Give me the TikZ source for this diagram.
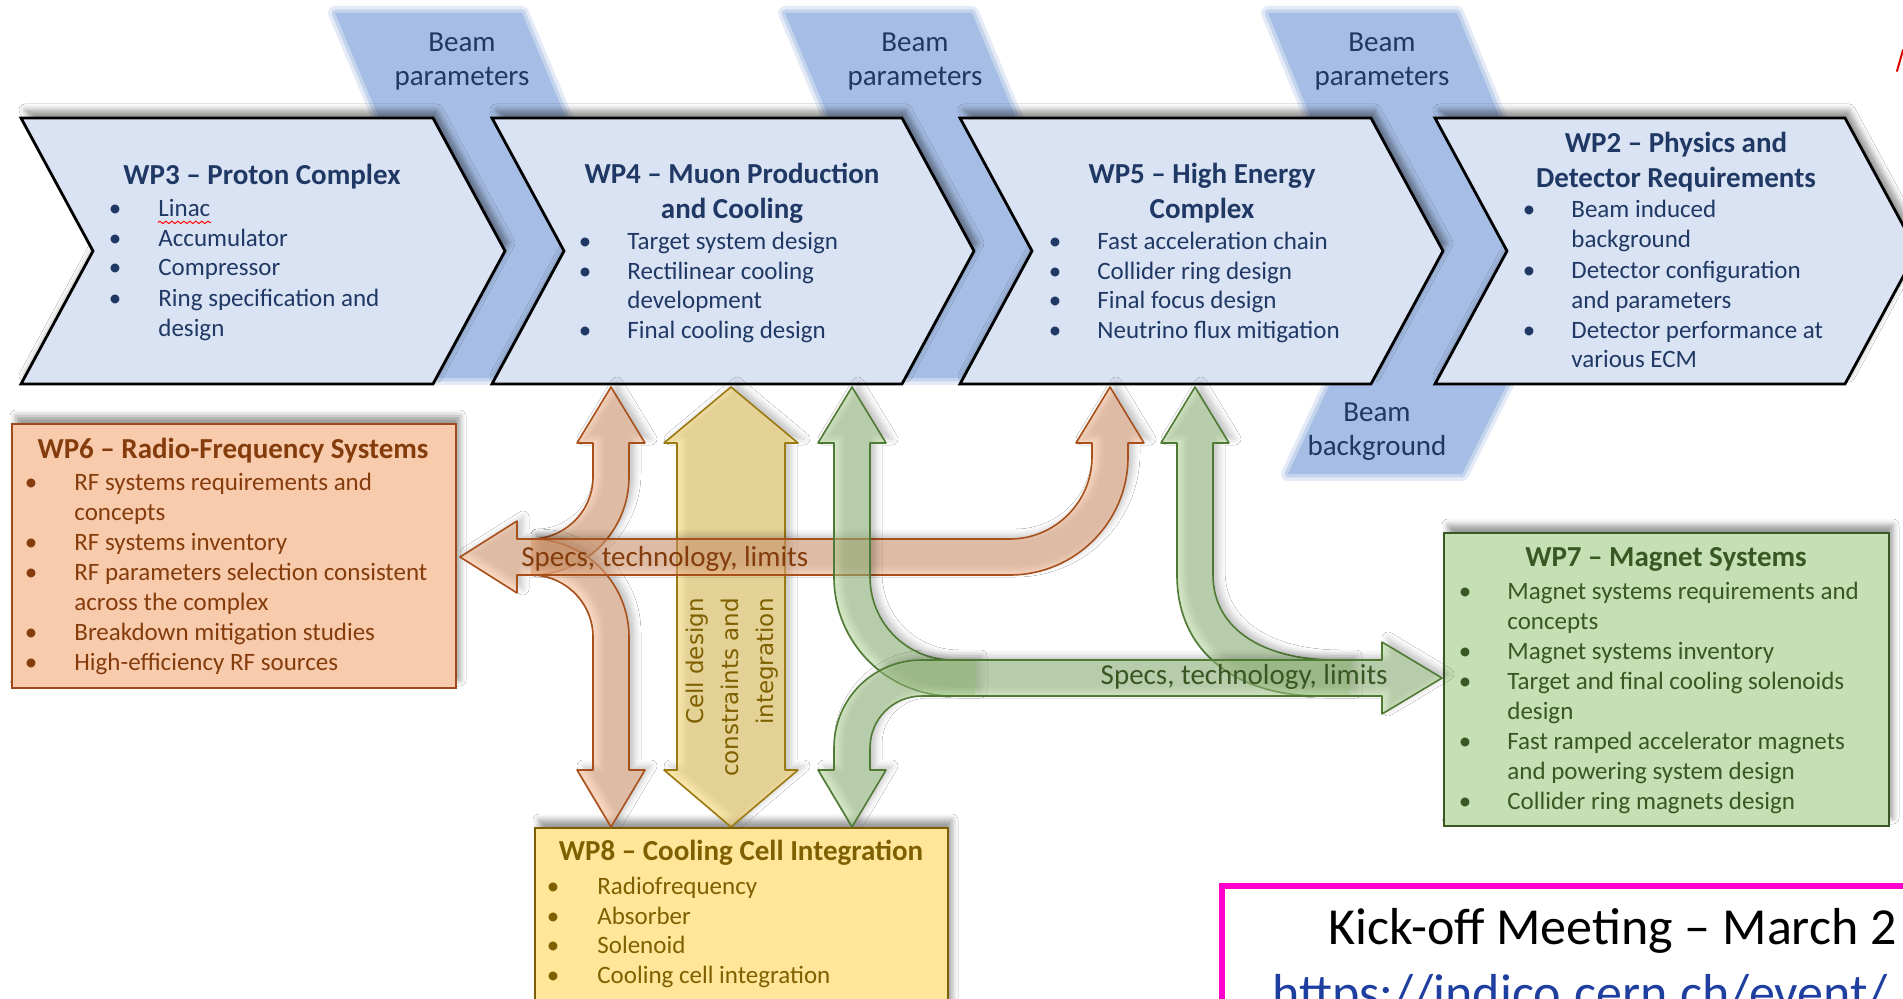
\documentclass[tikz,border=0pt]{standalone}
\usepackage{fontspec}
\setmainfont{Carlito}
\newfontfamily\vfont{DejaVu Sans}
\usetikzlibrary{shadows,shadows.blur,decorations.pathmorphing}

\definecolor{chevfill}{HTML}{DAE3F3}
\definecolor{bandc}{RGB}{166,190,229}
\definecolor{navy}{HTML}{1F3864}
\definecolor{rfFill}{HTML}{F8CBAD}
\definecolor{rfLine}{HTML}{9C4A1A}
\definecolor{rfText}{HTML}{843C0C}
\definecolor{mgFill}{HTML}{C5E0B4}
\definecolor{mgLine}{HTML}{385723}
\definecolor{mgText}{HTML}{385723}
\definecolor{ccFill}{HTML}{FFE699}
\definecolor{ccLine}{HTML}{7F6000}
\definecolor{ccText}{HTML}{7F6000}
\definecolor{oFill}{HTML}{F4B183}
\definecolor{oLine}{HTML}{A8501C}
\definecolor{yFill}{HTML}{F7D874}
\definecolor{yLine}{HTML}{9C7A12}
\definecolor{gFill}{HTML}{A9D18E}
\definecolor{gLine}{HTML}{4E7A33}
\definecolor{kick}{HTML}{FF00CC}
\definecolor{urlc}{HTML}{1F3FA0}

\newcommand\itemlist[5]{%
  \foreach \yy/\fl/\tx [count=\i] in {#5} {
    \node[li, text=#2] (#1-\i) at (#4,\yy) {\tx};
    \ifnum\fl=1 \node[li, anchor=center, text=#2] (#1b-\i) at (#3,\yy) {•};\fi
  }}

\begin{document}
\begin{tikzpicture}[x=0.5pt,y=-0.5pt,
  shd/.style={blur shadow={shadow xshift=2pt, shadow yshift=4pt, shadow blur radius=3pt, shadow opacity=40}},
  ashd/.style={blur shadow={shadow xshift=3pt, shadow yshift=2pt, shadow blur radius=3pt, shadow opacity=22}},
  band/.style={preaction={draw=bandc, draw opacity=0.3, line width=7pt, line join=round},
               preaction={draw=bandc, draw opacity=0.5, line width=3.5pt, line join=round},
               fill=bandc},
  chev/.style={fill=chevfill, draw=black, line width=1.4pt, line join=miter, shd},
  beam/.style={align=center, font=\fontsize{14.5}{17}\selectfont, text=navy, inner sep=0pt},
  ttl/.style={align=center, font=\bfseries\fontsize{14.5}{17.5}\selectfont, inner sep=0pt},
  li/.style={anchor=west, inner sep=0pt, font=\fontsize{12.5}{15}\selectfont, text height=8.75pt, text depth=1.25pt},
  lbl/.style={inner sep=0pt, font=\fontsize{14.5}{17}\selectfont},
  oF/.style={fill=oFill, fill opacity=0.5, ashd},
  oD/.style={draw=oLine, line width=0.8pt, line join=round},
  gF/.style={fill=gFill, fill opacity=0.5, ashd},
  gD/.style={draw=gLine, line width=0.8pt, line join=round},
  yF/.style={fill=yFill, fill opacity=0.6, ashd},
  yD/.style={draw=yLine, line width=0.8pt, line join=round},
]
\fill[white] (0,0) rectangle (1903,999);
\useasboundingbox (0,0) rectangle (1903,999);

% blue bands behind the chevrons
\path[band] (335,13) -- (522,13) -- (566,118) -- (620,251) -- (560,378) -- (400,378) -- (460,251) -- (379,118) -- cycle;
\path[band] (785,13) -- (972,13) -- (1016,118) -- (1090,251) -- (1030,378) -- (870,378) -- (930,251) -- (829,118) -- cycle;
\path[band] (1268,13) -- (1457,13) -- (1500,118) -- (1560,251) -- (1507,384) -- (1462,474) -- (1288,474) -- (1330,384) -- (1380,251) -- (1311,118) -- cycle;

% chevrons
\path[chev] (21,118) -- (433,118) -- (505,251) -- (433,384) -- (21,384) -- (93,251) -- cycle;
\path[chev] (492,118) -- (902,118) -- (974,251) -- (902,384) -- (492,384) -- (564,251) -- cycle;
\path[chev] (960,118) -- (1371,118) -- (1443,251) -- (1371,384) -- (960,384) -- (1032,251) -- cycle;
\path[chev] (1435,118) -- (1845,118) -- (1917,251) -- (1845,384) -- (1435,384) -- (1507,251) -- cycle;

% band labels
\node[beam] (bp1) at (462,62) {Beam\\parameters};
\node[beam] (bp2) at (915,62) {Beam\\parameters};
\node[beam] (bp3) at (1382,62) {Beam\\parameters};
\node[beam] (bbg) at (1377,432) {Beam\\background};

% chevron texts
\node[ttl, text=navy] (wp3t) at (262,177) {WP3 – Proton Complex};
\node[ttl, text=navy] (wp4t) at (732,193) {WP4 – Muon Production\\and Cooling};
\node[ttl, text=navy] (wp5t) at (1202,193) {WP5 – High Energy\\Complex};
\node[ttl, text=navy] (wp2t) at (1676,162) {WP2 – Physics and\\Detector Requirements};

\itemlist{wp3}{navy}{115}{158}{209/1/Linac, 239/1/Accumulator, 268/1/Compressor, 299/1/Ring specification and, 329/0/design}
\draw[red, line width=0.5pt, decorate, decoration={snake, amplitude=0.6pt, segment length=3pt}] (wp3-1.south west) ++(0,3) -- ++(53,0);
\itemlist{wp4}{navy}{585}{627}{242/1/Target system design, 272/1/Rectilinear cooling, 301/0/development, 331/1/Final cooling design}
\itemlist{wp5}{navy}{1055}{1097}{242/1/Fast acceleration chain, 272/1/Collider ring design, 301/1/Final focus design, 331/1/Neutrino flux mitigation}
\itemlist{wp2}{navy}{1529}{1571}{210/1/Beam induced, 240/0/background, 271/1/Detector configuration, 301/0/and parameters, 331/1/Detector performance at, 360/0/various ECM}

% lower boxes
\node[draw=rfLine, fill=rfFill, line width=1.1pt, minimum width=222pt, minimum height=132pt, inner sep=0pt, shd] (wp6) at (234,556) {};
\node[draw=mgLine, fill=mgFill, line width=1.3pt, minimum width=222.5pt, minimum height=146.5pt, inner sep=0pt, shd] (wp7) at (1666.5,679.5) {};
\node[draw=ccLine, fill=ccFill, line width=1.2pt, minimum width=206.5pt, minimum height=91pt, inner sep=0pt, shd] (wp8) at (741.5,919) {};
\node[draw=kick, line width=3pt, minimum width=351.5pt, minimum height=72pt, inner sep=0pt] (kickbox) at (1573.5,958) {};

\node[ttl, text=rfText] (wp6t) at (233,451) {WP6 – Radio-Frequency Systems};
\itemlist{wp6}{rfText}{31}{74}{483/1/RF systems requirements and, 513/0/concepts, 543/1/RF systems inventory, 573/1/RF parameters selection consistent, 603/0/across the complex, 633/1/Breakdown mitigation studies, 663/1/High-efficiency RF sources}

\node[ttl, text=mgText] (wp7t) at (1666,559) {WP7 – Magnet Systems};
\itemlist{wp7}{mgText}{1465}{1507}{592/1/Magnet systems requirements and, 622/0/concepts, 652/1/Magnet systems inventory, 682/1/Target and final cooling solenoids, 712/0/design, 742/1/Fast ramped accelerator magnets, 772/0/and powering system design, 802/1/Collider ring magnets design}

\node[ttl, text=ccText] (wp8t) at (741,853) {WP8 – Cooling Cell Integration};
\itemlist{wp8}{ccText}{553}{597}{887/1/Radiofrequency, 917/1/Absorber, 946/1/Solenoid, 976/1/Cooling cell integration}

\node[anchor=base west, inner sep=0pt, font=\fontsize{26}{30}\selectfont] (kickt) at (1328,945) {Kick-off Meeting – March 2};
\node[anchor=base west, inner sep=0pt, font=\fontsize{26}{30}\selectfont, text=urlc] (urlt) at (1272,1010) {https://indico.cern.ch/event/};

% yellow double arrow
\path[yF, yD] (731,387) -- (798,443) -- (785,443) -- (785,770) -- (798,770) -- (731,827) -- (664,770) -- (677,770) -- (677,443) -- (664,443) -- cycle;

% orange arrows
\fill[oF] (531,539) .. controls (565,539) and (593,511) .. (593,477) -- (593,443) -- (577,443) -- (611,387) -- (645,443) -- (629,443) -- (629,477) .. controls (629,531) and (585,575) .. (531,575) -- cycle;
\draw[oD] (531,539) .. controls (565,539) and (593,511) .. (593,477) -- (593,443) -- (577,443) -- (611,387) -- (645,443) -- (629,443) -- (629,477) .. controls (629,531) and (585,575) .. (531,575);
\fill[oF] (531,575) .. controls (565,575) and (593,603) .. (593,637) -- (593,770) -- (577,770) -- (611,827) -- (645,770) -- (629,770) -- (629,637) .. controls (629,583) and (585,539) .. (531,539) -- cycle;
\draw[oD] (531,575) .. controls (565,575) and (593,603) .. (593,637) -- (593,770) -- (577,770) -- (611,827) -- (645,770) -- (629,770) -- (629,637) .. controls (629,583) and (585,539) .. (531,539);
\path[oF, oD] (460,557) -- (517,521) -- (517,539) -- (1010,539) .. controls (1055,539) and (1092,502) .. (1092,457) -- (1092,443) -- (1076,443) -- (1110,387) -- (1144,443) -- (1128,443) -- (1128,457) .. controls (1128,522) and (1075,575) .. (1010,575) -- (517,575) -- (517,593) -- cycle;

% green arrows
\fill[gF] (975,660) -- (953,660) .. controls (907,660) and (870,623) .. (870,577) -- (870,443) -- (886,443) -- (852,387) -- (818,443) -- (834,443) -- (834,577) .. controls (834,643) and (887,696) .. (953,696) -- (975,696) -- cycle;
\draw[gD] (953,660) .. controls (907,660) and (870,623) .. (870,577) -- (870,443) -- (886,443) -- (852,387) -- (818,443) -- (834,443) -- (834,577) .. controls (834,643) and (887,696) .. (953,696);
\fill[gF] (1350,660) -- (1335,660) .. controls (1265,660) and (1213,630) .. (1213,575) -- (1213,443) -- (1229,443) -- (1195,387) -- (1161,443) -- (1177,443) -- (1177,575) .. controls (1177,655) and (1240,696) .. (1320,696) -- (1350,696) -- cycle;
\draw[gD] (1335,660) .. controls (1265,660) and (1213,630) .. (1213,575) -- (1213,443) -- (1229,443) -- (1195,387) -- (1161,443) -- (1177,443) -- (1177,575) .. controls (1177,655) and (1240,696) .. (1320,696);
\path[gF, gD] (852,827) -- (818,770) -- (834,770) -- (834,748) .. controls (834,699) and (873,660) .. (922,660) -- (1382,660) -- (1382,642) -- (1442,678) -- (1382,714) -- (1382,696) -- (922,696) .. controls (893,696) and (870,719) .. (870,748) -- (870,770) -- (886,770) -- cycle;

% arrow labels
\node[lbl, text=rfText, anchor=west] (specO) at (521,559) {Specs, technology, limits};
\node[lbl, text=mgText, anchor=east] (specG) at (1388,677) {Specs, technology, limits};
\node[rotate=90, anchor=east, align=right, inner sep=0pt, font=\vfont\fontsize{11.5}{17.5}\selectfont, text=ccText] (cellt) at (732,598) {Cell design\\constraints and\\integration};

% small red mark at top right
\draw[red!85!black, line width=1pt, line cap=round] (1903,50) -- (1897,71);
\end{tikzpicture}
\end{document}
